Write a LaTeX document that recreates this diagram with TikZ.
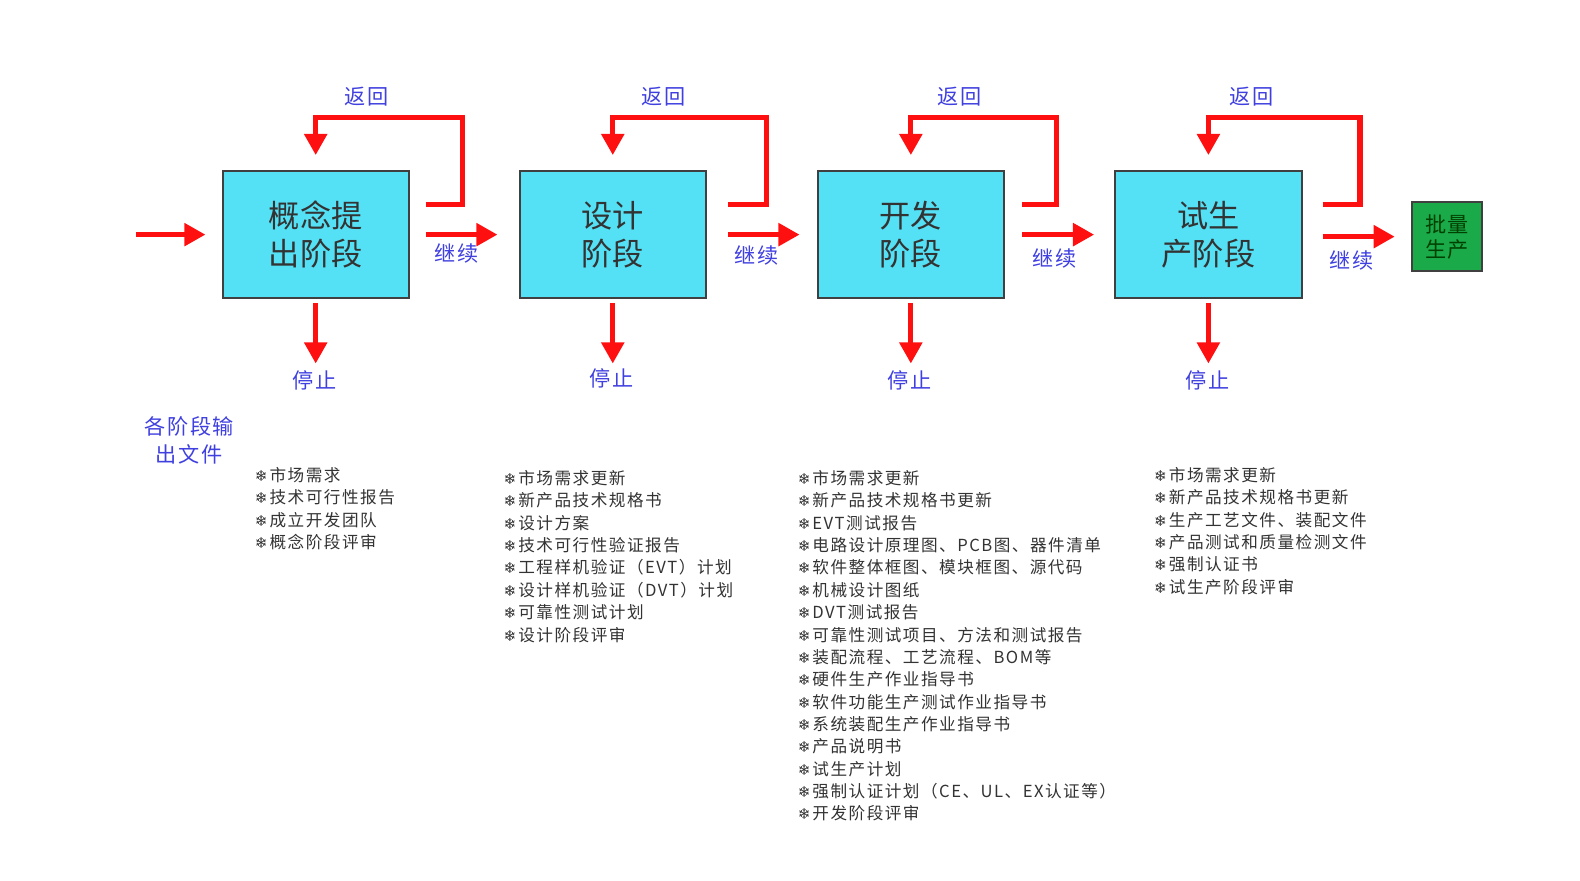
\documentclass[tikz,border=0pt]{standalone}
\usepackage{fontspec}
\setmainfont{Noto Sans CJK SC}
\newfontfamily\listfont[LetterSpace=9]{Noto Sans CJK SC}
\newfontfamily\lblfont[LetterSpace=8]{Noto Sans CJK SC}
\newfontfamily\symfont{DejaVu Sans}
\usetikzlibrary{arrows.meta,calc}
\definecolor{boxcyan}{HTML}{55E1F5}
\definecolor{boxgreen}{HTML}{1AAA4A}
\definecolor{lblblue}{HTML}{4040E0}
\definecolor{arrred}{HTML}{FF1010}
\definecolor{listgray}{HTML}{333333}
\newcommand{\bul}{{\symfont\fontsize{15}{15}\selectfont ❄}\hspace{2pt}}
\begin{document}
\begin{tikzpicture}[x=1pt,y=-1pt,
  stagebox/.style={draw=black!75,line width=2pt,fill=boxcyan,minimum width=185pt,minimum height=126pt,inner sep=0pt,align=center,
     font=\fontsize{31}{38}\selectfont,text=black!80},
  endbox/.style={draw=black!75,line width=2pt,fill=boxgreen,minimum width=70pt,minimum height=68pt,inner sep=0pt,align=center,
     font=\fontsize{21}{25}\selectfont,text=green!25!black},
  arr/.style={draw=arrred,line width=5pt,-{Triangle[length=21pt,width=22pt]}},
  lbl/.style={text=lblblue,font=\lblfont\fontsize{21}{25}\selectfont,inner sep=0pt,align=center},
  lst/.style={text=listgray,font=\listfont\fontsize{16.5}{22.2}\selectfont,inner sep=0pt,align=left,anchor=north west}]
\useasboundingbox (0,0) rectangle (1569,874);
\fill[white] (0,0) rectangle (1569,874);
% boxes
\node[stagebox] (b1) at (313.5,233) {概念提\\出阶段};
\node[stagebox] (b2) at (608.5,233) {设计\\阶段};
\node[stagebox] (b3) at (904.5,233) {开发\\阶段};
\node[stagebox] (b4) at (1200,233) {试生\\产阶段};
\node[endbox] (g) at (1437,235) {批量\\生产};
\coordinate (in) at (135,233);
% forward arrows
\draw[arr,shorten >=16pt] (in) -- (b1.west);
\draw[arr,shorten <=16pt,shorten >=21pt] (b1.east) -- (b2.west);
\draw[arr,shorten <=21pt,shorten >=17pt] (b2.east) -- (b3.west);
\draw[arr,shorten <=17pt,shorten >=20pt] (b3.east) -- (b4.west);
\draw[arr,shorten <=20pt,shorten >=16pt] (b4.east |- g.west) -- (g.west);
% return loops and stop arrows
\foreach \b/\s/\w in {b1/16/36,b2/21/38,b3/17/34,b4/20/37}{
  \draw[arr,shorten >=15pt] ([shift={(\s,-30)}]\b.east) -- ++(\w,0) |- ($(\b.north)+(0,-52)$) -- (\b.north);
  \draw[arr,shorten <=4pt] (\b.south) -- ++(0,64);
}
% labels
\node[lbl] (r1) at (364,96) {返回};
\node[lbl] (r2) at (659,96) {返回};
\node[lbl] (r3) at (953,96) {返回};
\node[lbl] (r4) at (1243,96) {返回};
\node[lbl] (c1) at (453,252) {继续};
\node[lbl] (c2) at (751,254) {继续};
\node[lbl] (c3) at (1047,257) {继续};
\node[lbl] (c4) at (1342,259) {继续};
\node[lbl] (s1) at (312,378) {停止};
\node[lbl] (s2) at (607,376) {停止};
\node[lbl] (s3) at (903,378) {停止};
\node[lbl] (s4) at (1199,378) {停止};
\node[lbl,font=\lblfont\fontsize{21}{28}\selectfont] (out) at (188,437) {各阶段输\\出文件};
% lists
\node[lst] (l1) at (253,464) {\bul 市场需求\\\bul 技术可行性报告\\\bul 成立开发团队\\\bul 概念阶段评审};
\node[lst] (l2) at (500,467) {\bul 市场需求更新\\\bul 新产品技术规格书\\\bul 设计方案\\\bul 技术可行性验证报告\\\bul 工程样机验证（EVT）计划\\\bul 设计样机验证（DVT）计划\\\bul 可靠性测试计划\\\bul 设计阶段评审};
\node[lst] (l3) at (792,467) {\bul 市场需求更新\\\bul 新产品技术规格书更新\\\bul EVT测试报告\\\bul 电路设计原理图、PCB图、器件清单\\\bul 软件整体框图、模块框图、源代码\\\bul 机械设计图纸\\\bul DVT测试报告\\\bul 可靠性测试项目、方法和测试报告\\\bul 装配流程、工艺流程、BOM等\\\bul 硬件生产作业指导书\\\bul 软件功能生产测试作业指导书\\\bul 系统装配生产作业指导书\\\bul 产品说明书\\\bul 试生产计划\\\bul 强制认证计划（CE、UL、EX认证等）\\\bul 开发阶段评审};
\node[lst] (l4) at (1146,464) {\bul 市场需求更新\\\bul 新产品技术规格书更新\\\bul 生产工艺文件、装配文件\\\bul 产品测试和质量检测文件\\\bul 强制认证书\\\bul 试生产阶段评审};
\end{tikzpicture}
\end{document}
